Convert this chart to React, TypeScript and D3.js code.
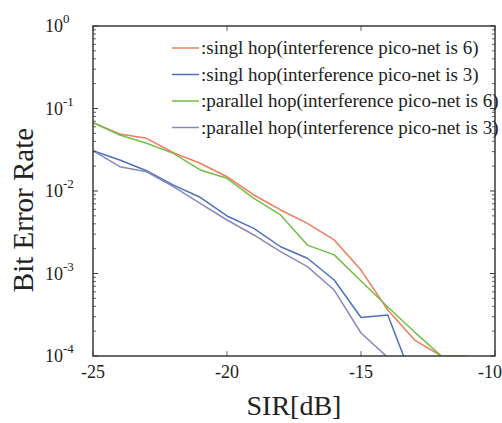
import React from "react";
import * as d3 from "d3";

const sir = [-25, -24, -23, -22, -21, -20, -19, -18, -17, -16, -15, -14, -13, -12, -11];

const singl6 = [0.0673, 0.0491, 0.0435, 0.0291, 0.0217, 0.0149, 0.00895, 0.00589, 0.00406, 0.00255, 0.0011, 0.000361, 0.000156, 0.0001];
const singl3 = [0.0308, 0.0238, 0.0176, 0.0118, 0.00839, 0.00498, 0.00353, 0.00211, 0.00153, 0.000834, 0.000293, 0.000314, 0.000045];
const parallel6 = [0.0673, 0.0477, 0.0379, 0.0286, 0.018, 0.01426, 0.00816, 0.00512, 0.00221, 0.00168, 0.000811, 0.000393, 0.000195, 0.0001, 0.0001];
const parallel3 = [0.0308, 0.0197, 0.0171, 0.0113, 0.0071, 0.00445, 0.00293, 0.00184, 0.00121, 0.00063, 0.00019, 0.000096];

const seriesNames = [
  ":singl hop(interference pico-net is 6)",
  ":singl hop(interference pico-net is 3)",
  ":parallel hop(interference pico-net is 6)",
  ":parallel hop(interference pico-net is 3)",
];
const seriesColors = ["#ef7b5e", "#4d72bd", "#72bf46", "#8b87b9"];
const seriesValues = [singl6, singl3, parallel6, parallel3];

const xTicks = [-25, -20, -15, -10];
const yExps = [0, -1, -2, -3, -4];

const W = 502;
const H = 423;
const L = 93, R = 495, T = 26, B = 356;

const FONT = "Liberation Serif, Tinos, Times New Roman, DejaVu Serif, serif";

export default function App() {
  const x = d3.scaleLinear().domain([-25, -10]).range([L, R]);
  const y = d3.scaleLog().domain([1e-4, 1]).range([B, T]);
  const line = d3
    .line<[number, number]>()
    .x((d) => x(d[0]))
    .y((d) => y(d[1]));

  const minor: number[] = [];
  for (let e = -4; e < 0; e++) {
    for (let k = 2; k <= 9; k++) minor.push(k * Math.pow(10, e));
  }
  const xMinor = d3.range(-25, -9, 1);

  const axisColor = "#3a3a3a";
  const ts = { fontFamily: FONT };

  return (
    <svg
      width={W}
      height={H}
      style={{ position: "absolute", left: 0, top: 0, background: "#fff", fontFamily: FONT }}
    >
      <defs>
        <clipPath id="plot">
          <rect x={L} y={T} width={R - L} height={B - T} />
        </clipPath>
      </defs>
      <rect x={0} y={0} width={W} height={H} fill="#fff" />

      {/* series */}
      <g clipPath="url(#plot)">
        {seriesValues.map((vals, i) => (
          <path
            key={i}
            d={line(vals.map((v, j) => [sir[j], v] as [number, number])) || ""}
            fill="none"
            stroke={seriesColors[i]}
            strokeWidth={1.5}
            strokeLinejoin="round"
          />
        ))}
      </g>

      {/* frame */}
      <rect x={L} y={T} width={R - L} height={B - T} fill="none" stroke={axisColor} strokeWidth={1.5} />

      {/* y minor ticks */}
      {minor.map((v, i) => (
        <g key={"m" + i} stroke={axisColor} strokeWidth={0.8}>
          <line x1={L} x2={L + 3} y1={y(v)} y2={y(v)} />
          <line x1={R} x2={R - 3} y1={y(v)} y2={y(v)} />
        </g>
      ))}
      {yExps.map((e) => (
        <g key={"M" + e} stroke={axisColor} strokeWidth={1}>
          <line x1={L} x2={L + 5} y1={y(Math.pow(10, e))} y2={y(Math.pow(10, e))} />
          <line x1={R} x2={R - 5} y1={y(Math.pow(10, e))} y2={y(Math.pow(10, e))} />
        </g>
      ))}
      {xMinor.map((v) => (
        <g key={"xm" + v} stroke={axisColor} strokeWidth={0.8}>
          <line x1={x(v)} x2={x(v)} y1={B} y2={B - (v % 5 === 0 ? 5 : 0)} />
          <line x1={x(v)} x2={x(v)} y1={T} y2={T + (v % 5 === 0 ? 5 : 0)} />
        </g>
      ))}

      {/* y tick labels */}
      {yExps.map((e) => (
        <text key={"yl" + e} x={45} y={y(Math.pow(10, e)) + 6} fontSize={18} fill="#222" style={ts}>
          10
          <tspan fontSize={13} dy={-9}>
            {e === 0 ? "0" : "-" + Math.abs(e)}
          </tspan>
        </text>
      ))}

      {/* x tick labels */}
      {xTicks.map((t) => (
        <text
          key={"xl" + t}
          x={t === -10 ? 502 : x(t)}
          y={378}
          fontSize={18}
          fill="#222"
          textAnchor={t === -10 ? "end" : "middle"}
          style={ts}
        >
          {t}
        </text>
      ))}

      {/* axis titles */}
      <text x={(L + R) / 2} y={415} fontSize={28} fill="#222" textAnchor="middle" style={ts}>
        SIR[dB]
      </text>
      <text
        transform={`translate(33, ${210}) rotate(-90)`}
        fontSize={29}
        fill="#222"
        textAnchor="middle"
        style={ts}
      >
        Bit Error Rate
      </text>

      {/* legend */}
      {seriesNames.map((n, i) => {
        const ly = 48 + i * 26.5;
        return (
          <g key={"lg" + i}>
            <line x1={172} x2={199} y1={ly} y2={ly} stroke={seriesColors[i]} strokeWidth={1.5} />
            <text x={201} y={ly + 6} fontSize={19} fill="#222" style={ts}>
              {n}
            </text>
          </g>
        );
      })}
    </svg>
  );
}
